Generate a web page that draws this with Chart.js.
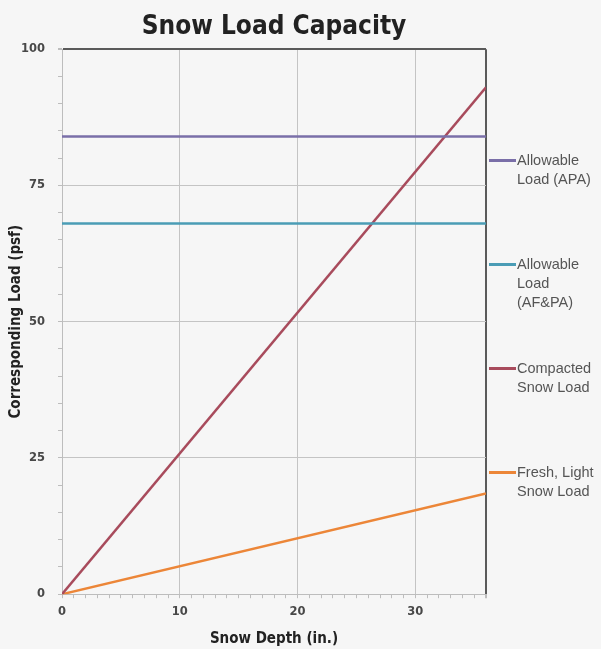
<!DOCTYPE html>
<html>
<head>
<meta charset="utf-8">
<script src="https://cdn.jsdelivr.net/npm/chart.js@4.4.1/dist/chart.umd.min.js"></script>
<style>
body { margin: 0; background: #f6f6f6; }
.wrap { position: relative; width: 601px; height: 649px; }
#myChart { position: absolute; left: 0; top: 0; }
.legend { position: absolute; left: 489px; top: 0; font-family: "Liberation Sans", Arial, sans-serif; font-size: 14.5px; color: #555; }
.legend-item { position: absolute; left: 0; white-space: nowrap; line-height: 19px; }
.legend-item .mark { position: absolute; left: 0; top: 8px; width: 27px; height: 2.5px; }
.legend-item .txt { position: absolute; left: 28px; top: 0; }
</style>
</head>
<body>
<div class="wrap">
<canvas id="myChart" width="601" height="649"></canvas>
<div class="legend"></div>
</div>
<script>
// snow depth (in.) at the ends of each line
var depth = [0, 36];
var apaLoad = [84, 84];
var afpaLoad = [68, 68];
var compactedLoad = [0, 93];
var freshLoad = [0, 18.5];

var seriesNames = [['Allowable', 'Load (APA)'], ['Allowable', 'Load', '(AF&PA)'], ['Compacted', 'Snow Load'], ['Fresh, Light', 'Snow Load']];
var seriesValues = [apaLoad, afpaLoad, compactedLoad, freshLoad];
var colors = ['#7a6fa8', '#4a9cb5', '#a84b5c', '#ec8638'];

var xTicks = [0, 10, 20, 30];
var yTicks = [0, 25, 50, 75, 100];

function points(vals) {
    var out = [];
    for (var i = 0; i < depth.length; i++) {
        out.push({ x: depth[i], y: vals[i] });
    }
    return out;
}

var datasets = [];
for (var i = 0; i < seriesValues.length; i++) {
    datasets.push({
        label: seriesNames[i].join(' '),
        data: points(seriesValues[i]),
        borderColor: colors[i],
        backgroundColor: colors[i],
        borderWidth: 2.5,
        pointRadius: 0,
        tension: 0
    });
}

var clear = 'rgba(0,0,0,0)';
var tickFont = { family: '"DejaVu Sans", Verdana, sans-serif', size: 11.5, weight: 'bold' };
var titleFont = { family: '"DejaVu Sans Condensed", "DejaVu Sans", sans-serif', size: 15, weight: 'bold' };

const ctx = document.getElementById('myChart').getContext('2d');

const myChart = new Chart(ctx, {
    type: 'line',
    data: { datasets: datasets },
    options: {
        responsive: false,
        animation: false,
        events: [],
        layout: { padding: { left: 7, right: 115, top: 4, bottom: 1 } },
        scales: {
            x: {
                type: 'linear',
                min: 0,
                max: 36,
                ticks: {
                    stepSize: 1,
                    autoSkip: false,
                    maxRotation: 0,
                    padding: 7,
                    color: '#484848',
                    font: tickFont,
                    callback: function(v) { return xTicks.indexOf(v) >= 0 ? v : ''; }
                },
                grid: {
                    color: function(c) {
                        var v = c.tick.value;
                        if (v === 36) return '#5a5a5a';
                        return (xTicks.indexOf(v) > 0) ? '#c4c4c4' : clear;
                    },
                    lineWidth: function(c) { return c.tick.value === 36 ? 2 : 1; },
                    tickColor: '#bdbdbd',
                    tickLength: 4
                },
                border: { color: '#bdbdbd' },
                title: { display: true, text: 'Snow Depth (in.)', color: '#222', font: titleFont, padding: { top: 4, bottom: 0 } }
            },
            y: {
                min: 0,
                max: 100,
                ticks: {
                    stepSize: 5,
                    padding: 13,
                    color: '#484848',
                    font: tickFont,
                    callback: function(v) { return yTicks.indexOf(v) >= 0 ? v : ''; }
                },
                grid: {
                    color: function(c) {
                        var v = c.tick.value;
                        if (v === 100) return '#5a5a5a';
                        return (yTicks.indexOf(v) > 0) ? '#c4c4c4' : clear;
                    },
                    lineWidth: function(c) { return c.tick.value === 100 ? 2 : 1; },
                    tickColor: '#bdbdbd',
                    tickLength: 4
                },
                border: { color: '#bdbdbd' },
                title: { display: true, text: 'Corresponding Load (psf)', color: '#222', font: titleFont, padding: { top: 0, bottom: -17 } }
            }
        },
        plugins: {
            legend: { display: false },
            tooltip: { enabled: false },
            title: {
                display: true,
                text: 'Snow Load Capacity',
                fullSize: false,
                color: '#222',
                font: { family: '"DejaVu Sans Condensed", "DejaVu Sans", sans-serif', size: 26, weight: 'bold' },
                padding: { top: 8, bottom: 6 }
            }
        }
    }
});

// html legend on the right
var text = [];
for (var i = 0; i < seriesNames.length; i++) {
    text.push('<div class="legend-item" style="top:' + (151 + i * 104) + 'px">');
    text.push('<span class="mark" style="background-color:' + colors[i] + '"></span>');
    text.push('<span class="txt">' + seriesNames[i].join('<br>').replace('&P', '&amp;P') + '</span>');
    text.push('</div>');
}
document.querySelector('.legend').innerHTML = text.join('');
</script>
</body>
</html>
